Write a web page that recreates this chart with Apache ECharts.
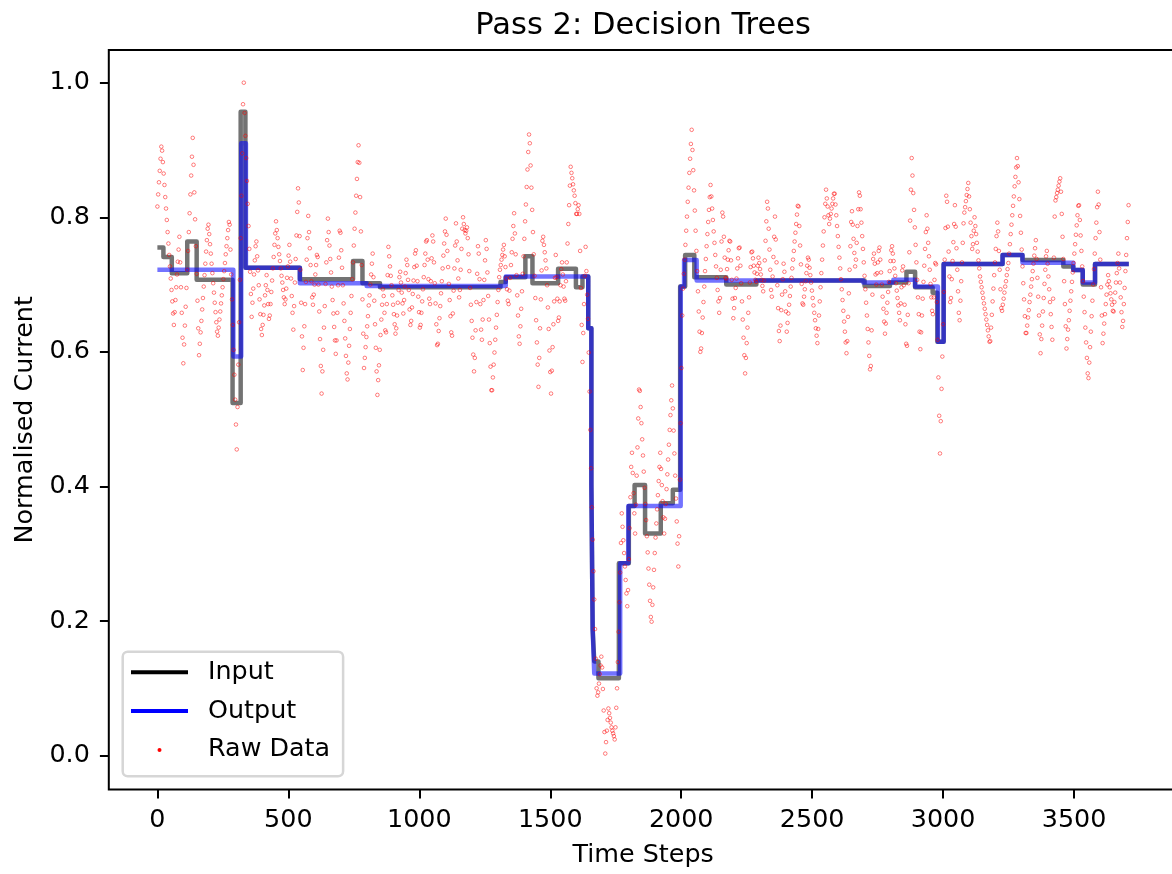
<!DOCTYPE html>
<html>
<head>
<meta charset="utf-8">
<title>Pass 2: Decision Trees</title>
<script src="https://cdn.jsdelivr.net/npm/echarts@6/dist/echarts.min.js"></script>
<style>
  html, body { margin: 0; padding: 0; background: #fff; }
  #chart { width: 1172px; height: 874px; }
</style>
</head>
<body>
<div id="chart"></div>
<script>
const FONT = 'DejaVu Sans';

// Axis ticks
const xTicks = [0, 500, 1000, 1500, 2000, 2500, 3000, 3500];
const yTicks = [0.0, 0.2, 0.4, 0.6, 0.8, 1.0];

// Raw current readings: one reading every RAW_STRIDE steps,
// each row holds the readings of RAW_ROW_SPAN consecutive steps
const RAW_STRIDE = 3;
const RAW_ROW_SPAN = 120;
const rawRows = [
  [.816,.834,.852,.869,.887,.905,.899,.882,.865,.848,.830,.813,.796,.778,.761,.744,.727,.709,.692,.675,.657,.640,.659,.677,.696,.715,.734,.752,.771,.733,.696,.658,.621,.583,.611,.639,.667,.695,.722,.750],
  [.778,.806,.834,.862,.890,.918,.878,.837,.797,.757,.716,.676,.635,.595,.612,.629,.646,.663,.680,.697,.714,.731,.749,.766,.783,.789,.775,.760,.746,.731,.717,.702,.688,.673,.659,.644,.630,.624,.636,.648],
  [.660,.672,.684,.696,.708,.720,.732,.745,.757,.769,.781,.793,.789,.752,.715,.678,.640,.603,.566,.529,.492,.455,.518,.581,.644,.707,.769,.832,.895,.968,1.000,.955,.921,.888,.854,.820,.787,.753,.719,.686],
  [.652,.673,.694,.715,.736,.757,.764,.742,.721,.699,.678,.656,.634,.625,.640,.655,.669,.684,.699,.714,.692,.671,.649,.654,.671,.689,.706,.724,.741,.759,.776,.794,.781,.769,.756,.745,.735,.724,.713,.703],
  [.692,.681,.671,.678,.694,.710,.727,.743,.759,.734,.709,.683,.658,.633,.668,.703,.738,.773,.808,.843,.822,.772,.722,.673,.623,.573,.606,.638,.671,.704,.737,.769,.802,.778,.754,.729,.705,.681,.670,.685],
  [.700,.715,.729,.744,.741,.700,.660,.619,.579,.538,.571,.603,.636,.668,.701,.733,.766,.798,.778,.758,.738,.718,.697,.677,.657,.637,.617,.597,.617,.658,.699,.740,.780,.777,.751,.725,.699,.672,.646,.620],
  [.594,.568,.559,.584,.609,.634,.658,.683,.708,.733,.758,.783,.807,.832,.857,.882,.907,.881,.830,.779,.729,.678,.627,.576,.591,.607,.622,.638,.653,.669,.684,.700,.715,.731,.746,.711,.676,.641,.606,.571],
  [.536,.558,.580,.603,.625,.648,.670,.693,.683,.658,.632,.629,.671,.714,.756,.742,.727,.713,.699,.684,.670,.656,.641,.627,.635,.654,.673,.692,.711,.719,.703,.688,.672,.657,.677,.697,.717,.737,.729,.707],
  [.692,.663,.640,.646,.666,.686,.706,.726,.746,.751,.728,.705,.682,.659,.636,.640,.658,.675,.693,.711,.729,.746,.764,.766,.737,.708,.679,.671,.705,.739,.773,.764,.733,.702,.672,.641,.610,.612,.631,.650],
  [.668,.687,.705,.724,.743,.761,.779,.798,.774,.750,.726,.701,.677,.653,.629,.624,.657,.691,.724,.758,.791,.764,.736,.709,.681,.692,.722,.753,.783,.800,.790,.781,.776,.780,.785,.769,.745,.720,.695,.670],
  [.646,.621,.596,.571,.591,.632,.674,.716,.757,.746,.708,.671,.633,.618,.648,.677,.707,.736,.766,.753,.718,.683,.648,.613,.578,.543,.543,.562,.581,.599,.618,.636,.655,.674,.692,.711,.722,.729,.737,.744],
  [.752,.759,.742,.726,.709,.693,.676,.671,.691,.710,.729,.748,.768,.787,.806,.776,.745,.714,.684,.654,.623,.612,.638,.664,.690,.716,.742,.768,.794,.819,.845,.871,.897,.923,.910,.877,.844,.811,.778,.745],
  [.713,.680,.647,.614,.581,.548,.591,.635,.678,.721,.765,.771,.759,.748,.736,.724,.699,.666,.634,.602,.570,.538,.572,.607,.641,.675,.710,.744,.711,.679,.646,.651,.675,.699,.723,.733,.715,.697,.679,.676],
  [.705,.733,.761,.790,.818,.847,.875,.866,.858,.849,.840,.832,.821,.805,.805,.812,.818,.805,.750,.695,.640,.585,.628,.671,.713,.756,.720,.685,.649,.599,.541,.484,.427,.369,.321,.274,.232,.188,.144,.100],
  [.089,.094,.107,.121,.134,.147,.131,.099,.067,.035,.003,.020,.037,.053,.070,.063,.056,.049,.042,.037,.033,.029,.024,.042,.071,.100,.139,.184,.228,.272,.316,.360,.340,.320,.301,.281,.261,.241,.222,.246],
  [.292,.338,.384,.429,.450,.420,.390,.360,.330,.373,.416,.458,.501,.544,.542,.518,.494,.470,.446,.422,.398,.374,.350,.326,.302,.278,.254,.230,.206,.199,.224,.250,.276,.301,.324,.345,.366,.387,.408,.429],
  [.450,.426,.402,.378,.354,.330,.352,.374,.396,.418,.440,.462,.484,.506,.528,.550,.516,.483,.449,.416,.382,.348,.315,.281,.326,.410,.494,.576,.654,.694,.716,.737,.759,.780,.801,.823,.844,.866,.887,.909],
  [.930,.900,.870,.840,.810,.780,.750,.720,.690,.660,.630,.600,.605,.628,.651,.674,.697,.720,.738,.757,.775,.793,.811,.830,.848,.831,.813,.796,.779,.762,.744,.727,.710,.692,.675,.658,.680,.722,.764,.807],
  [.801,.771,.740,.710,.709,.723,.737,.751,.765,.764,.736,.707,.679,.650,.665,.680,.695,.709,.724,.739,.754,.755,.728,.702,.675,.648,.621,.595,.568,.591,.613,.636,.658,.681,.703,.726,.748,.749,.739,.728],
  [.718,.707,.704,.716,.728,.740,.732,.723,.715,.707,.698,.690,.706,.736,.765,.794,.823,.813,.783,.752,.722,.692,.682,.712,.741,.771,.801,.767,.733,.699,.665,.631,.616,.639,.662,.685,.708,.731,.719,.690],
  [.660,.630,.643,.657,.670,.683,.697,.710,.724,.737,.750,.764,.777,.790,.804,.817,.816,.787,.758,.730,.701,.672,.670,.682,.693,.705,.717,.728,.740,.737,.725,.714,.703,.691,.680,.669,.658,.647,.635,.624],
  [.613,.634,.654,.675,.696,.717,.737,.758,.779,.800,.820,.841,.828,.816,.803,.790,.798,.805,.813,.820,.828,.835,.835,.819,.803,.787,.772,.756,.740,.724,.708,.693,.677,.661,.645,.630,.614,.598,.616,.652],
  [.687,.722,.757,.793,.809,.789,.768,.747,.727,.737,.762,.787,.812,.837,.832,.812,.792,.772,.753,.733,.713,.693,.673,.654,.634,.614,.594,.574,.579,.632,.685,.738,.746,.731,.715,.700,.717,.733,.750,.755],
  [.737,.718,.700,.682,.664,.645,.627,.642,.658,.673,.689,.704,.720,.735,.751,.757,.746,.735,.724,.713,.702,.691,.680,.669,.658,.647,.672,.696,.721,.727,.699,.670,.641,.612,.609,.655,.702,.748,.795,.841],
  [.888,.862,.836,.811,.785,.759,.733,.707,.681,.656,.630,.604,.629,.654,.679,.704,.728,.753,.778,.803,.783,.762,.742,.722,.701,.681,.661,.656,.681,.707,.732,.730,.674,.618,.562,.505,.449,.497,.545,.593],
  [.641,.689,.737,.784,.832,.823,.786,.749,.712,.674,.680,.708,.735,.763,.790,.818,.786,.754,.722,.690,.658,.647,.676,.705,.733,.762,.791,.807,.815,.824,.833,.842,.851,.831,.812,.792,.772,.753,.760,.780],
  [.800,.787,.775,.762,.749,.736,.724,.712,.704,.696,.688,.680,.672,.664,.656,.648,.640,.632,.623,.615,.616,.636,.655,.675,.694,.714,.733,.753,.772,.792,.779,.750,.722,.693,.665,.661,.670,.679,.688,.697],
  [.705,.714,.723,.732,.746,.760,.775,.789,.803,.817,.831,.846,.860,.874,.888,.876,.852,.827,.802,.777,.752,.727,.702,.678,.653,.628,.628,.639,.651,.662,.674,.685,.697,.708,.720,.731,.743,.754,.766,.738],
  [.710,.682,.654,.626,.598,.619,.639,.660,.680,.701,.722,.742,.750,.731,.712,.693,.674,.656,.637,.618,.679,.740,.801,.825,.830,.836,.841,.847,.853,.858,.838,.805,.771,.738,.705,.671,.638,.605,.619,.633],
  [.647,.661,.676,.690,.704,.718,.732,.746,.760,.774,.788,.803,.817,.818,.796,.773,.750,.727,.705,.682,.659,.636,.614,.591,.568,.561,.584,.607,.630,.653,.676,.700,.723,.746,.769,.792,.815,.838,.819,.778],
  [.737,.696,.654,.613,.627,.642,.656,.671,.685,.700,.714,.705,.696,.687,.678,.670,.661,.660,.674,.688,.703,.717,.732,.746,.724,.703,.681,.659,.637,.646,.671,.695,.720,.744,.769,.793,.818]
];

// Input signal: level changes (time step where each level starts)
const inputSteps = [
  0, 23, 55, 114, 150, 287, 318, 336, 544, 747,
  783, 850, 1310, 1330, 1405, 1432, 1530, 1598, 1623, 1645,
  1657, 1662, 1668, 1684, 1762, 1800, 1822, 1862, 1922, 1968,
  1996, 2015, 2050, 2172, 2287, 2700, 2797, 2860, 2893, 2960,
  2978, 3002, 3227, 3303, 3459, 3497, 3533, 3580, 3709
];
const inputLevels = [
  0.755, 0.741, 0.717, 0.764, 0.707, 0.524, 0.957, 0.725, 0.708, 0.735,
  0.702, 0.696, 0.704, 0.711, 0.742, 0.702, 0.7236, 0.696, 0.712, 0.635,
  0.402, 0.187, 0.140, 0.115, 0.286, 0.371, 0.402, 0.330, 0.375, 0.395,
  0.697, 0.744, 0.711, 0.700, 0.706, 0.698, 0.703, 0.719, 0.696, 0.688,
  0.615, 0.7306, 0.744, 0.7365, 0.727, 0.7217, 0.700, 0.7306, 0.7306
];

// Decision-tree output: level changes
const outputSteps = [
  0, 290, 320, 338, 544, 799, 1330, 1645, 1657, 1662,
  1668, 1767, 1798, 1998, 2011, 2059, 2695, 2810, 2893, 2980,
  3002, 3227, 3303, 3497, 3533, 3580, 3709
];
const outputLevels = [
  0.722, 0.593, 0.910, 0.725, 0.702, 0.698, 0.712, 0.635, 0.402, 0.187,
  0.122, 0.286, 0.371, 0.697, 0.7365, 0.706, 0.703, 0.707, 0.697, 0.615,
  0.7306, 0.744, 0.7325, 0.7217, 0.703, 0.7306, 0.7306
];

const zip = (xs, ys) => xs.map((x, i) => [x, ys[i]]);
const rawData = [];
rawRows.forEach((row, r) => {
  row.forEach((v, j) => rawData.push([r * RAW_ROW_SPAN + j * RAW_STRIDE, v]));
});
const inputData = zip(inputSteps, inputLevels);
const outputData = zip(outputSteps, outputLevels);

const labelStyle = { fontFamily: FONT, fontSize: 25.4, color: '#000' };

const chart = echarts.init(document.getElementById('chart'), null, { renderer: 'canvas' });
chart.setOption({
  animation: false,
  backgroundColor: '#fff',
  textStyle: { fontFamily: FONT },
  title: {
    text: 'Pass 2: Decision Trees',
    left: 643.1,
    top: 10.5,
    textAlign: 'center',
    padding: 0,
    textStyle: { fontFamily: FONT, fontSize: 30.5, fontWeight: 'normal', color: '#000' }
  },
  grid: {
    left: 108.8, top: 50, right: -5.4, bottom: 84.5,
    show: true, borderColor: '#000', borderWidth: 2, backgroundColor: 'transparent',
    containLabel: false, outerBoundsMode: 'none'
  },
  legend: {
    orient: 'vertical',
    left: 122.7,
    top: 651.7,
    padding: [6.1, 13, 11.9, 8.3],
    itemWidth: 57,
    itemHeight: 4,
    itemGap: 9.8,
    selectedMode: false,
    backgroundColor: 'rgba(255,255,255,0.8)',
    borderColor: '#d6d6d6',
    borderWidth: 2.5,
    borderRadius: 5,
    textStyle: { fontFamily: FONT, fontSize: 25.4, color: '#000', lineHeight: 25, padding: [4, 0, 0, 15] },
    data: [
      { name: 'Input', icon: 'rect', itemStyle: { color: '#000', borderWidth: 0, opacity: 1 } },
      { name: 'Output', icon: 'rect', itemStyle: { color: '#0000ff', borderWidth: 0, opacity: 1 } },
      { name: 'Raw Data', icon: 'circle', itemStyle: { color: '#ff0000', borderWidth: 0, opacity: 1 } }
    ]
  },
  xAxis: {
    type: 'value',
    min: -185.5,
    max: 3894.5,
    axisLine: { show: false, onZero: false },
    splitLine: { show: false },
    axisTick: { show: true, customValues: xTicks, length: 8.9, lineStyle: { color: '#000', width: 2 } },
    axisLabel: { customValues: xTicks, margin: 18, ...labelStyle, formatter: v => String(v) },
    name: 'Time Steps',
    nameLocation: 'middle',
    nameGap: 53,
    nameTextStyle: labelStyle
  },
  yAxis: {
    type: 'value',
    min: -0.0504,
    max: 1.0486,
    axisLine: { show: false, onZero: false },
    splitLine: { show: false },
    axisTick: { show: true, customValues: yTicks, length: 8.9, lineStyle: { color: '#000', width: 2 } },
    axisLabel: { customValues: yTicks, margin: 19, ...labelStyle, padding: [3.4, 0, 0, 0], formatter: v => Number(v).toFixed(1) },
    name: 'Normalised Current',
    nameLocation: 'middle',
    nameGap: 71,
    nameTextStyle: labelStyle
  },
  series: [
    {
      name: 'Input',
      type: 'line',
      step: 'end',
      data: inputData,
      symbol: 'none',
      color: '#000',
      z: 2,
      lineStyle: { color: 'rgba(0,0,0,0.55)', width: 4.5, join: 'round', cap: 'butt' }
    },
    {
      name: 'Output',
      type: 'line',
      step: 'end',
      data: outputData,
      symbol: 'none',
      color: '#0000ff',
      z: 3,
      lineStyle: { color: 'rgba(0,0,255,0.55)', width: 4.5, join: 'round', cap: 'butt' }
    },
    {
      name: 'Raw Data',
      type: 'scatter',
      data: rawData,
      symbol: 'circle',
      symbolSize: 3.6,
      z: 4,
      silent: true,
      large: false,
      itemStyle: { color: 'rgba(255,255,255,0)', borderColor: 'rgba(255,0,0,0.7)', borderWidth: 0.9 }
    }
  ]
});
</script>
</body>
</html>
